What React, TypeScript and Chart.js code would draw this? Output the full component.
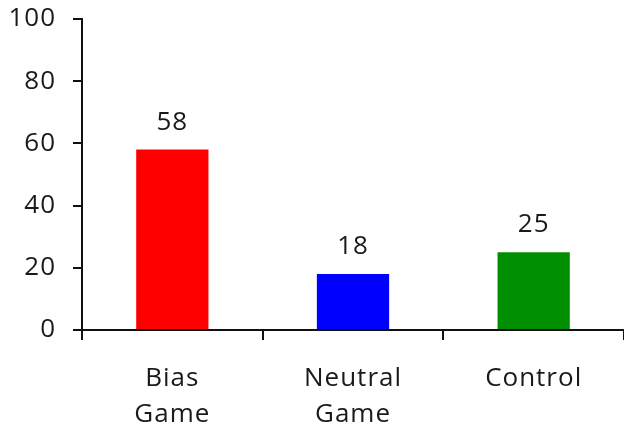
import React, { useEffect, useRef } from "react";
import { Chart, registerables } from "chart.js";

Chart.register(...registerables);

const categories: string[][] = [["Bias", "Game"], ["Neutral", "Game"], ["Control"]];
const values: number[] = [58, 18, 25];
const barColors: string[] = ["#FF0000", "#0000FF", "#008F00"];
const yTicks: number[] = [0, 20, 40, 60, 80, 100];

const FONT = "'Open Sans', 'DejaVu Sans', sans-serif";
const TEXT = "#1a1a1a";
const SPACING = "1px";

const spacingPlugin = {
  id: "spacing",
  beforeLayout(chart: any) {
    (chart.ctx as any).letterSpacing = SPACING;
  },
  beforeDraw(chart: any) {
    (chart.ctx as any).letterSpacing = SPACING;
  },
};

const valueLabels = {
  id: "valueLabels",
  afterDatasetsDraw(chart: any) {
    const ctx = chart.ctx;
    const meta = chart.getDatasetMeta(0);
    ctx.save();
    ctx.font = `26px ${FONT}`;
    ctx.fillStyle = TEXT;
    ctx.textAlign = "center";
    ctx.textBaseline = "alphabetic";
    meta.data.forEach((bar: any, i: number) => {
      ctx.fillText(String(values[i]), bar.x, bar.y - 20);
    });
    ctx.restore();
  },
};

export default function App() {
  const ref = useRef<HTMLCanvasElement | null>(null);
  useEffect(() => {
    document.body.style.margin = "0";
    const chart = new Chart(ref.current as HTMLCanvasElement, {
      type: "bar",
      data: {
        labels: categories as any,
        datasets: [
          {
            data: values,
            backgroundColor: barColors,
            borderWidth: 0,
            barPercentage: 0.4,
            categoryPercentage: 1,
          },
        ],
      },
      options: {
        animation: false,
        responsive: false,
        maintainAspectRatio: false,
        layout: { padding: { top: 19, right: 0, bottom: 0, left: 0 } },
        plugins: { legend: { display: false }, tooltip: { enabled: false } },
        scales: {
          x: {
            grid: {
              drawOnChartArea: false,
              drawTicks: true,
              tickLength: 10,
              color: "#111",
              lineWidth: 2,
              offset: true,
            },
            border: { color: "#111", width: 2 },
            ticks: {
              color: TEXT,
              font: { family: FONT, size: 26, lineHeight: 1.4 },
              padding: 20,
              maxRotation: 0,
              autoSkip: false,
            },
            afterFit(scale: any) {
              scale.height = 102;
            },
          },
          y: {
            min: 0,
            max: 100,
            afterBuildTicks(scale: any) {
              scale.ticks = yTicks.map((v) => ({ value: v }));
            },
            grid: {
              drawOnChartArea: false,
              drawTicks: true,
              tickLength: 9,
              color: "#111",
              lineWidth: 2,
            },
            border: { color: "#111", width: 2 },
            ticks: {
              color: TEXT,
              font: { family: FONT, size: 26 },
              padding: 17,
            },
            afterFit(scale: any) {
              scale.width = 82;
              scale.paddingTop = 0;
              scale.paddingBottom = 0;
            },
          },
        },
      },
      plugins: [spacingPlugin, valueLabels],
    });
    return () => chart.destroy();
  }, []);
  return (
    <div style={{ width: 624, height: 432, background: "#fff" }}>
      <canvas ref={ref} width={624} height={432} style={{ width: 624, height: 432 }} />
    </div>
  );
}
